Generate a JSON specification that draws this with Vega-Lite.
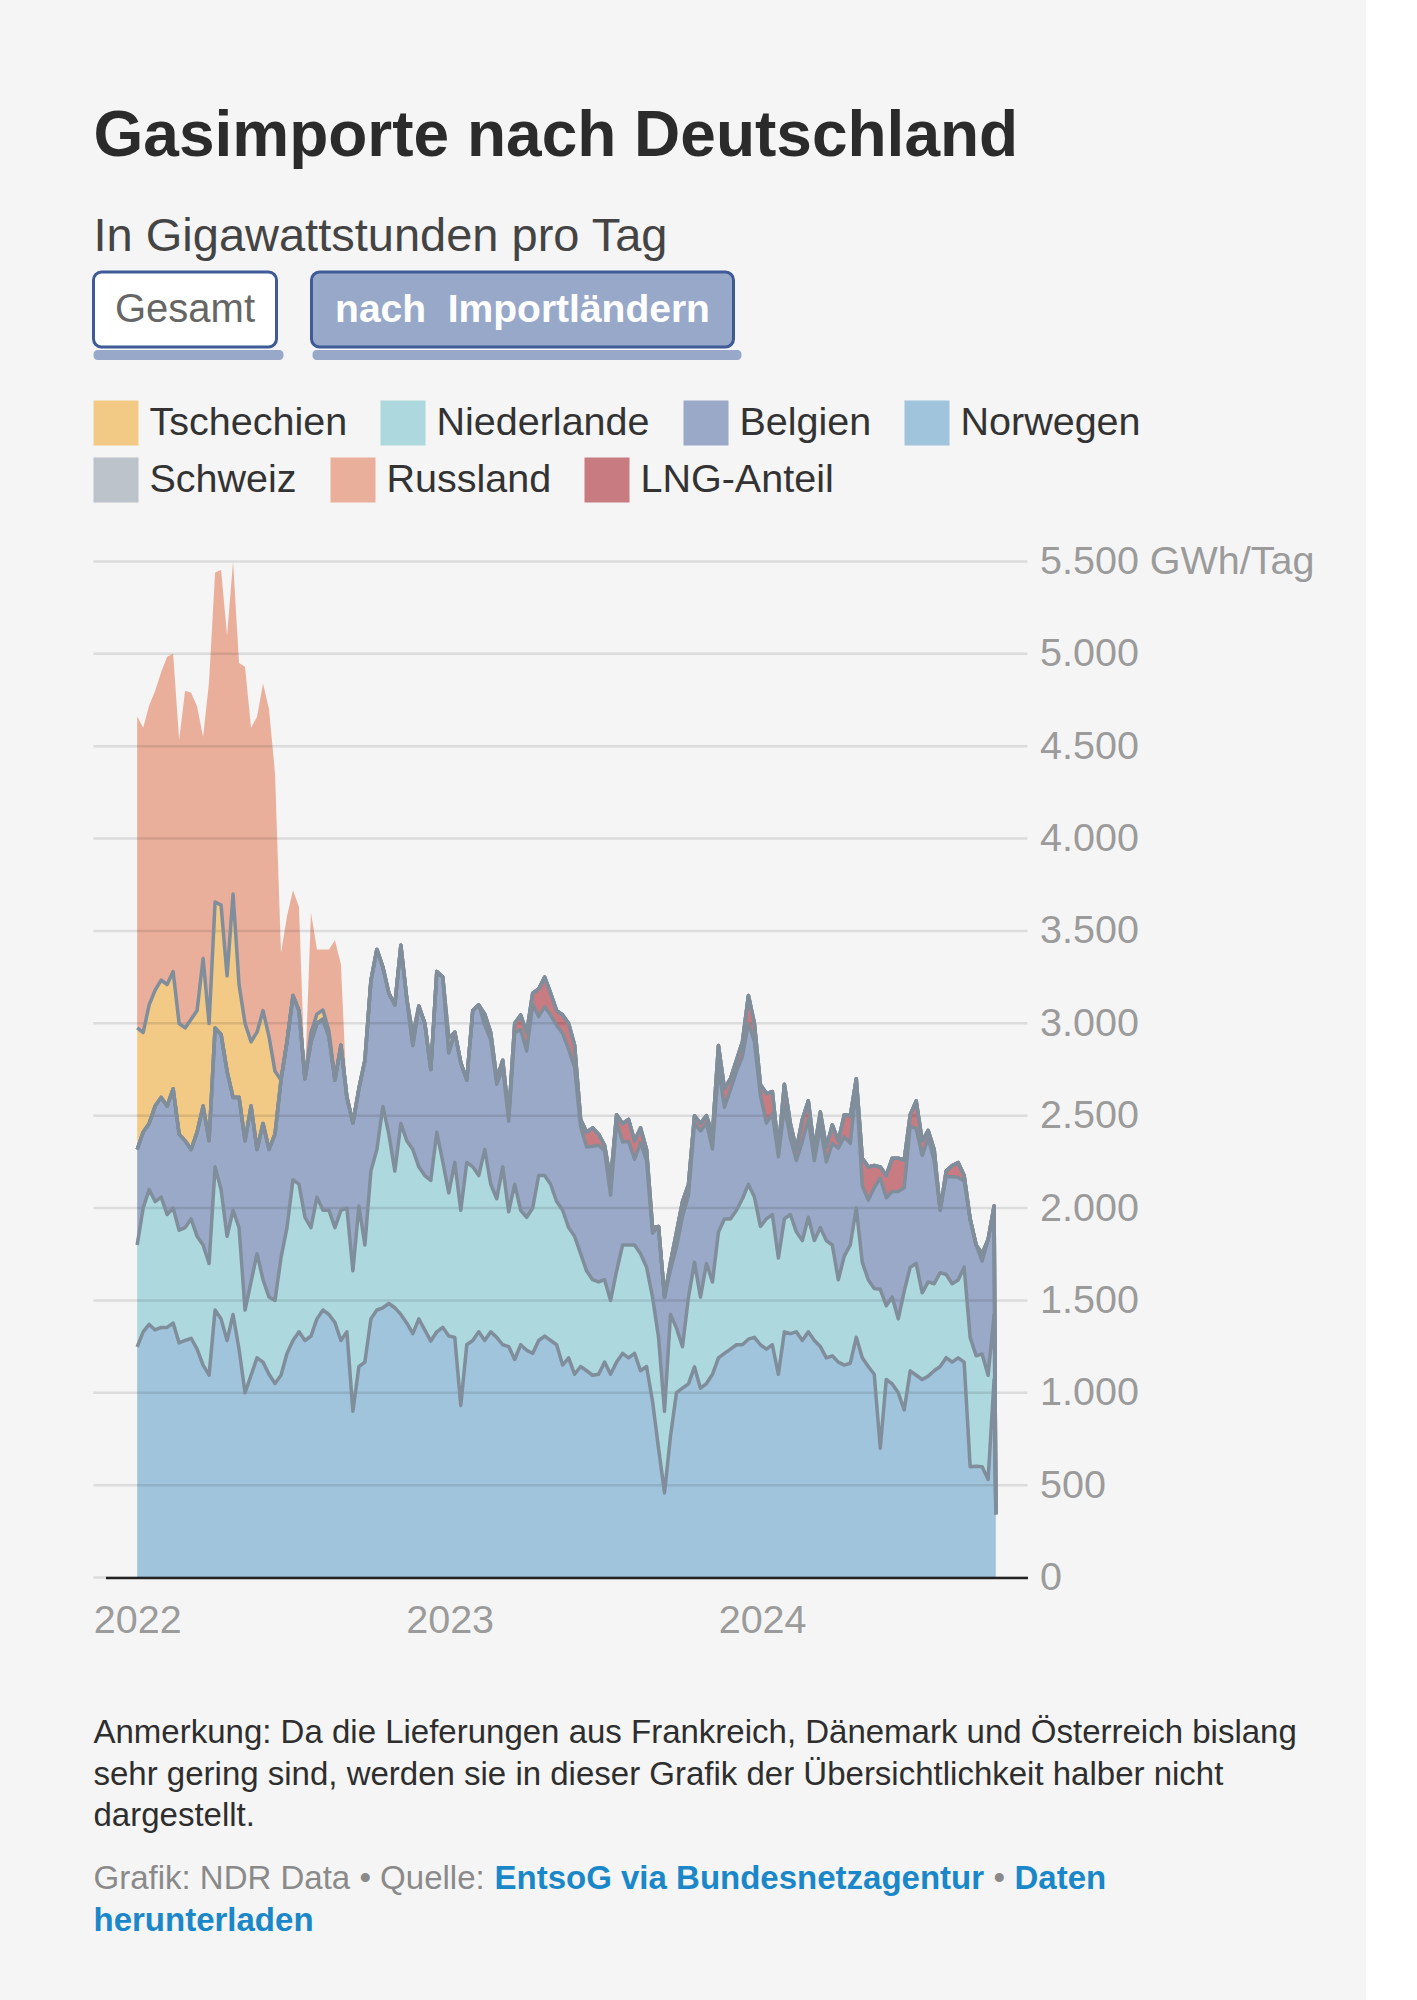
{
 "$schema": "https://vega.github.io/schema/vega-lite/v6.json",
 "background": "#f5f5f5",
 "padding": {"left": 91.5, "top": 105, "right": 51, "bottom": 62},
 "config": {"view": {"stroke": null}, "font": "Liberation Sans"},
 "title": {
  "text": "Gasimporte nach Deutschland",
  "subtitle": "In Gigawattstunden pro Tag",
  "anchor": "start", "frame": "group",
  "font": "Liberation Sans", "fontSize": 64, "fontWeight": "bold", "color": "#2b2b2b",
  "subtitleFont": "Liberation Sans", "subtitleFontSize": 47, "subtitleColor": "#444444", "subtitleFontWeight": "normal",
  "subtitlePadding": 44.5, "offset": 11
 },
 "resolve": {"scale": {"color": "independent", "fill": "independent"}, "legend": {"color": "independent", "fill": "independent"}},
 "datasets": {
  "gas": [
{"d":"2022-01-01","no":1248,"nl":552,"be":517,"lng":0,"ch":0,"cz":658,"ru":1686},
{"d":"2022-01-08","no":1330,"nl":670,"be":411,"lng":0,"ch":0,"cz":539,"ru":1650},
{"d":"2022-01-15","no":1370,"nl":730,"be":358,"lng":0,"ch":0,"cz":642,"ru":1620},
{"d":"2022-01-22","no":1340,"nl":695,"be":517,"lng":0,"ch":0,"cz":628,"ru":1620},
{"d":"2022-01-29","no":1354,"nl":705,"be":540,"lng":0,"ch":0,"cz":635,"ru":1666},
{"d":"2022-02-05","no":1354,"nl":611,"be":587,"lng":0,"ch":0,"cz":658,"ru":1775},
{"d":"2022-02-12","no":1377,"nl":623,"be":646,"lng":0,"ch":0,"cz":634,"ru":1720},
{"d":"2022-02-19","no":1270,"nl":610,"be":520,"lng":0,"ch":0,"cz":599,"ru":1536},
{"d":"2022-02-26","no":1283,"nl":611,"be":470,"lng":0,"ch":0,"cz":611,"ru":1825},
{"d":"2022-03-05","no":1295,"nl":646,"be":376,"lng":0,"ch":0,"cz":705,"ru":1768},
{"d":"2022-03-12","no":1236,"nl":611,"be":564,"lng":0,"ch":0,"cz":658,"ru":1646},
{"d":"2022-03-19","no":1150,"nl":650,"be":752,"lng":0,"ch":0,"cz":799,"ru":1199},
{"d":"2022-03-26","no":1095,"nl":605,"be":664,"lng":0,"ch":0,"cz":635,"ru":1851},
{"d":"2022-04-02","no":1448,"nl":775,"be":752,"lng":0,"ch":0,"cz":682,"ru":1783},
{"d":"2022-04-09","no":1400,"nl":700,"be":840,"lng":0,"ch":0,"cz":700,"ru":1815},
{"d":"2022-04-16","no":1283,"nl":564,"be":893,"lng":0,"ch":0,"cz":517,"ru":1843},
{"d":"2022-04-23","no":1424,"nl":564,"be":611,"lng":0,"ch":0,"cz":1101,"ru":1800},
{"d":"2022-04-30","no":1236,"nl":658,"be":706,"lng":0,"ch":0,"cz":610,"ru":1740},
{"d":"2022-05-07","no":1000,"nl":448,"be":916,"lng":0,"ch":0,"cz":635,"ru":1931},
{"d":"2022-05-14","no":1095,"nl":505,"be":952,"lng":0,"ch":0,"cz":348,"ru":1700},
{"d":"2022-05-21","no":1189,"nl":564,"be":564,"lng":0,"ch":0,"cz":635,"ru":1708},
{"d":"2022-05-28","no":1166,"nl":446,"be":846,"lng":0,"ch":0,"cz":611,"ru":1771},
{"d":"2022-06-04","no":1100,"nl":418,"be":799,"lng":0,"ch":0,"cz":611,"ru":1772},
{"d":"2022-06-11","no":1050,"nl":450,"be":900,"lng":0,"ch":0,"cz":340,"ru":1615},
{"d":"2022-06-18","no":1095,"nl":635,"be":963,"lng":0,"ch":0,"cz":0,"ru":687},
{"d":"2022-06-25","no":1213,"nl":681,"be":1006,"lng":0,"ch":0,"cz":0,"ru":680},
{"d":"2022-07-02","no":1283,"nl":870,"be":997,"lng":0,"ch":0,"cz":0,"ru":570},
{"d":"2022-07-09","no":1330,"nl":799,"be":940,"lng":0,"ch":0,"cz":0,"ru":561},
{"d":"2022-07-16","no":1283,"nl":667,"be":750,"lng":0,"ch":0,"cz":0,"ru":0},
{"d":"2022-07-23","no":1307,"nl":587,"be":1006,"lng":0,"ch":0,"cz":50,"ru":650},
{"d":"2022-07-30","no":1400,"nl":659,"be":941,"lng":0,"ch":0,"cz":50,"ru":350},
{"d":"2022-08-06","no":1448,"nl":540,"be":1034,"lng":0,"ch":0,"cz":50,"ru":328},
{"d":"2022-08-13","no":1424,"nl":564,"be":940,"lng":0,"ch":0,"cz":30,"ru":442},
{"d":"2022-08-20","no":1380,"nl":514,"be":799,"lng":0,"ch":0,"cz":0,"ru":757},
{"d":"2022-08-27","no":1283,"nl":705,"be":893,"lng":0,"ch":0,"cz":0,"ru":439},
{"d":"2022-09-03","no":1330,"nl":670,"be":600,"lng":0,"ch":0,"cz":0,"ru":0},
{"d":"2022-09-10","no":900,"nl":760,"be":800,"lng":0,"ch":0,"cz":0,"ru":0},
{"d":"2022-09-17","no":1142,"nl":869,"be":635,"lng":0,"ch":0,"cz":0,"ru":0},
{"d":"2022-09-24","no":1166,"nl":634,"be":1000,"lng":0,"ch":0,"cz":0,"ru":0},
{"d":"2022-10-01","no":1400,"nl":800,"be":1030,"lng":0,"ch":0,"cz":0,"ru":0},
{"d":"2022-10-08","no":1448,"nl":869,"be":1083,"lng":0,"ch":0,"cz":0,"ru":0},
{"d":"2022-10-15","no":1460,"nl":1090,"be":754,"lng":0,"ch":0,"cz":0,"ru":0},
{"d":"2022-10-22","no":1483,"nl":917,"be":763,"lng":0,"ch":0,"cz":0,"ru":0},
{"d":"2022-10-29","no":1460,"nl":740,"be":900,"lng":0,"ch":0,"cz":0,"ru":0},
{"d":"2022-11-05","no":1424,"nl":1034,"be":964,"lng":0,"ch":0,"cz":0,"ru":0},
{"d":"2022-11-12","no":1377,"nl":987,"be":766,"lng":0,"ch":0,"cz":0,"ru":0},
{"d":"2022-11-19","no":1320,"nl":997,"be":563,"lng":0,"ch":60,"cz":0,"ru":0},
{"d":"2022-11-26","no":1400,"nl":823,"be":870,"lng":0,"ch":0,"cz":0,"ru":0},
{"d":"2022-12-03","no":1340,"nl":836,"be":824,"lng":0,"ch":0,"cz":0,"ru":0},
{"d":"2022-12-10","no":1280,"nl":870,"be":600,"lng":0,"ch":0,"cz":0,"ru":0},
{"d":"2022-12-17","no":1330,"nl":1081,"be":869,"lng":0,"ch":0,"cz":0,"ru":0},
{"d":"2022-12-24","no":1354,"nl":896,"be":1000,"lng":0,"ch":0,"cz":0,"ru":0},
{"d":"2022-12-31","no":1307,"nl":775,"be":758,"lng":0,"ch":80,"cz":0,"ru":0},
{"d":"2023-01-07","no":1300,"nl":947,"be":705,"lng":0,"ch":0,"cz":0,"ru":0},
{"d":"2023-01-14","no":931,"nl":1057,"be":799,"lng":0,"ch":0,"cz":0,"ru":0},
{"d":"2023-01-21","no":1260,"nl":987,"be":446,"lng":0,"ch":0,"cz":0,"ru":0},
{"d":"2023-01-28","no":1283,"nl":940,"be":846,"lng":0,"ch":0,"cz":0,"ru":0},
{"d":"2023-02-04","no":1330,"nl":846,"be":924,"lng":0,"ch":0,"cz":0,"ru":0},
{"d":"2023-02-11","no":1283,"nl":1034,"be":673,"lng":60,"ch":0,"cz":0,"ru":0},
{"d":"2023-02-18","no":1330,"nl":799,"be":781,"lng":40,"ch":0,"cz":0,"ru":0},
{"d":"2023-02-25","no":1300,"nl":750,"be":620,"lng":30,"ch":0,"cz":0,"ru":0},
{"d":"2023-03-04","no":1260,"nl":963,"be":537,"lng":40,"ch":0,"cz":0,"ru":0},
{"d":"2023-03-11","no":1250,"nl":730,"be":490,"lng":30,"ch":0,"cz":0,"ru":0},
{"d":"2023-03-18","no":1180,"nl":949,"be":821,"lng":50,"ch":0,"cz":0,"ru":0},
{"d":"2023-03-25","no":1260,"nl":728,"be":977,"lng":80,"ch":0,"cz":0,"ru":0},
{"d":"2023-04-01","no":1230,"nl":720,"be":900,"lng":100,"ch":0,"cz":0,"ru":0},
{"d":"2023-04-08","no":1213,"nl":787,"be":1103,"lng":60,"ch":0,"cz":0,"ru":0},
{"d":"2023-04-15","no":1283,"nl":893,"be":860,"lng":150,"ch":0,"cz":0,"ru":0},
{"d":"2023-04-22","no":1307,"nl":869,"be":914,"lng":160,"ch":0,"cz":0,"ru":0},
{"d":"2023-04-29","no":1283,"nl":846,"be":914,"lng":120,"ch":0,"cz":0,"ru":0},
{"d":"2023-05-06","no":1260,"nl":775,"be":954,"lng":80,"ch":0,"cz":0,"ru":0},
{"d":"2023-05-13","no":1150,"nl":838,"be":957,"lng":100,"ch":0,"cz":0,"ru":0},
{"d":"2023-05-20","no":1189,"nl":705,"be":965,"lng":140,"ch":0,"cz":0,"ru":0},
{"d":"2023-05-27","no":1100,"nl":747,"be":914,"lng":120,"ch":0,"cz":0,"ru":0},
{"d":"2023-06-03","no":1142,"nl":611,"be":687,"lng":40,"ch":0,"cz":0,"ru":0},
{"d":"2023-06-10","no":1119,"nl":540,"be":672,"lng":80,"ch":0,"cz":0,"ru":0},
{"d":"2023-06-17","no":1095,"nl":517,"be":722,"lng":100,"ch":0,"cz":0,"ru":0},
{"d":"2023-06-24","no":1100,"nl":500,"be":740,"lng":60,"ch":0,"cz":0,"ru":0},
{"d":"2023-07-01","no":1166,"nl":446,"be":698,"lng":30,"ch":0,"cz":0,"ru":0},
{"d":"2023-07-08","no":1100,"nl":400,"be":570,"lng":80,"ch":0,"cz":0,"ru":0},
{"d":"2023-07-15","no":1166,"nl":493,"be":806,"lng":40,"ch":0,"cz":0,"ru":0},
{"d":"2023-07-22","no":1213,"nl":587,"be":558,"lng":100,"ch":0,"cz":0,"ru":0},
{"d":"2023-07-29","no":1189,"nl":611,"be":560,"lng":120,"ch":0,"cz":0,"ru":0},
{"d":"2023-08-05","no":1213,"nl":587,"be":464,"lng":100,"ch":0,"cz":0,"ru":0},
{"d":"2023-08-12","no":1119,"nl":634,"be":601,"lng":80,"ch":0,"cz":0,"ru":0},
{"d":"2023-08-19","no":1142,"nl":538,"be":577,"lng":60,"ch":0,"cz":0,"ru":0},
{"d":"2023-08-26","no":954,"nl":564,"be":346,"lng":30,"ch":0,"cz":0,"ru":0},
{"d":"2023-09-02","no":700,"nl":600,"be":600,"lng":0,"ch":0,"cz":0,"ru":0},
{"d":"2023-09-09","no":458,"nl":442,"be":618,"lng":0,"ch":0,"cz":0,"ru":0},
{"d":"2023-09-16","no":766,"nl":658,"be":242,"lng":40,"ch":0,"cz":0,"ru":0},
{"d":"2023-09-23","no":1001,"nl":349,"be":440,"lng":80,"ch":0,"cz":0,"ru":0},
{"d":"2023-09-30","no":1025,"nl":225,"be":705,"lng":80,"ch":0,"cz":0,"ru":0},
{"d":"2023-10-07","no":1048,"nl":470,"be":551,"lng":60,"ch":0,"cz":0,"ru":0},
{"d":"2023-10-14","no":1140,"nl":566,"be":754,"lng":40,"ch":0,"cz":0,"ru":0},
{"d":"2023-10-21","no":1025,"nl":493,"be":900,"lng":40,"ch":0,"cz":0,"ru":0},
{"d":"2023-10-28","no":1050,"nl":650,"be":760,"lng":40,"ch":0,"cz":0,"ru":0},
{"d":"2023-11-04","no":1100,"nl":500,"be":720,"lng":80,"ch":0,"cz":0,"ru":0},
{"d":"2023-11-11","no":1189,"nl":681,"be":890,"lng":120,"ch":0,"cz":0,"ru":0},
{"d":"2023-11-18","no":1213,"nl":728,"be":605,"lng":100,"ch":0,"cz":0,"ru":0},
{"d":"2023-11-25","no":1236,"nl":705,"be":699,"lng":60,"ch":0,"cz":0,"ru":0},
{"d":"2023-12-02","no":1260,"nl":728,"be":752,"lng":60,"ch":0,"cz":0,"ru":0},
{"d":"2023-12-09","no":1260,"nl":790,"be":770,"lng":80,"ch":0,"cz":0,"ru":0},
{"d":"2023-12-16","no":1290,"nl":839,"be":872,"lng":150,"ch":0,"cz":0,"ru":0},
{"d":"2023-12-23","no":1300,"nl":760,"be":840,"lng":100,"ch":0,"cz":0,"ru":0},
{"d":"2023-12-30","no":1260,"nl":640,"be":709,"lng":60,"ch":0,"cz":0,"ru":0},
{"d":"2024-01-06","no":1236,"nl":705,"be":519,"lng":160,"ch":0,"cz":0,"ru":0},
{"d":"2024-01-13","no":1260,"nl":705,"be":545,"lng":120,"ch":0,"cz":0,"ru":0},
{"d":"2024-01-20","no":1100,"nl":630,"be":547,"lng":40,"ch":0,"cz":0,"ru":0},
{"d":"2024-01-27","no":1330,"nl":611,"be":609,"lng":120,"ch":0,"cz":0,"ru":0},
{"d":"2024-02-03","no":1320,"nl":645,"be":413,"lng":80,"ch":0,"cz":0,"ru":0},
{"d":"2024-02-10","no":1330,"nl":541,"be":386,"lng":60,"ch":0,"cz":0,"ru":0},
{"d":"2024-02-17","no":1283,"nl":541,"be":537,"lng":120,"ch":0,"cz":0,"ru":0},
{"d":"2024-02-24","no":1330,"nl":620,"be":530,"lng":100,"ch":0,"cz":0,"ru":0},
{"d":"2024-03-02","no":1283,"nl":541,"be":433,"lng":60,"ch":0,"cz":0,"ru":0},
{"d":"2024-03-09","no":1250,"nl":644,"be":546,"lng":80,"ch":0,"cz":0,"ru":0},
{"d":"2024-03-16","no":1189,"nl":635,"be":426,"lng":80,"ch":0,"cz":0,"ru":0},
{"d":"2024-03-23","no":1200,"nl":600,"be":550,"lng":100,"ch":0,"cz":0,"ru":0},
{"d":"2024-03-30","no":1166,"nl":446,"be":712,"lng":40,"ch":0,"cz":0,"ru":0},
{"d":"2024-04-06","no":1150,"nl":590,"be":645,"lng":120,"ch":0,"cz":0,"ru":0},
{"d":"2024-04-13","no":1160,"nl":640,"be":550,"lng":150,"ch":0,"cz":0,"ru":0},
{"d":"2024-04-20","no":1300,"nl":700,"be":660,"lng":40,"ch":0,"cz":0,"ru":0},
{"d":"2024-04-27","no":1189,"nl":517,"be":414,"lng":150,"ch":0,"cz":0,"ru":0},
{"d":"2024-05-04","no":1142,"nl":470,"be":431,"lng":180,"ch":0,"cz":0,"ru":0},
{"d":"2024-05-11","no":1100,"nl":465,"be":545,"lng":120,"ch":0,"cz":0,"ru":0},
{"d":"2024-05-18","no":700,"nl":860,"be":603,"lng":60,"ch":0,"cz":0,"ru":0},
{"d":"2024-05-25","no":1072,"nl":399,"be":585,"lng":120,"ch":0,"cz":0,"ru":0},
{"d":"2024-06-01","no":1048,"nl":470,"be":572,"lng":180,"ch":0,"cz":0,"ru":0},
{"d":"2024-06-08","no":1000,"nl":400,"be":690,"lng":180,"ch":0,"cz":0,"ru":0},
{"d":"2024-06-15","no":907,"nl":643,"be":560,"lng":150,"ch":0,"cz":0,"ru":0},
{"d":"2024-06-22","no":1119,"nl":561,"be":765,"lng":60,"ch":0,"cz":0,"ru":0},
{"d":"2024-06-29","no":1095,"nl":605,"be":730,"lng":150,"ch":0,"cz":0,"ru":0},
{"d":"2024-07-06","no":1072,"nl":469,"be":743,"lng":80,"ch":0,"cz":0,"ru":0},
{"d":"2024-07-13","no":1090,"nl":510,"be":780,"lng":40,"ch":0,"cz":0,"ru":0},
{"d":"2024-07-20","no":1119,"nl":471,"be":667,"lng":60,"ch":0,"cz":0,"ru":0},
{"d":"2024-07-27","no":1142,"nl":508,"be":340,"lng":0,"ch":0,"cz":0,"ru":0},
{"d":"2024-08-03","no":1190,"nl":450,"be":530,"lng":30,"ch":0,"cz":0,"ru":0},
{"d":"2024-08-10","no":1166,"nl":424,"be":580,"lng":60,"ch":0,"cz":0,"ru":0},
{"d":"2024-08-17","no":1189,"nl":421,"be":556,"lng":80,"ch":0,"cz":0,"ru":0},
{"d":"2024-08-24","no":1166,"nl":514,"be":466,"lng":30,"ch":0,"cz":0,"ru":0},
{"d":"2024-08-31","no":600,"nl":700,"be":641,"lng":0,"ch":0,"cz":0,"ru":0},
{"d":"2024-09-07","no":602,"nl":598,"be":600,"lng":0,"ch":0,"cz":0,"ru":0},
{"d":"2024-09-14","no":600,"nl":610,"be":503,"lng":40,"ch":0,"cz":0,"ru":0},
{"d":"2024-09-21","no":531,"nl":564,"be":735,"lng":0,"ch":0,"cz":0,"ru":0},
{"d":"2024-09-28","no":1072,"nl":352,"be":587,"lng":0,"ch":0,"cz":0,"ru":0},
{"d":"2024-09-30","no":343,"nl":0,"be":0,"lng":0,"ch":0,"cz":0,"ru":0}
  ],
  "series": [
   {"key": "no", "name": "Norwegen", "o": 1},
   {"key": "nl", "name": "Niederlande", "o": 2},
   {"key": "be", "name": "Belgien", "o": 3},
   {"key": "lng", "name": "LNG-Anteil", "o": 4},
   {"key": "ch", "name": "Schweiz", "o": 5},
   {"key": "cz", "name": "Tschechien", "o": 6},
   {"key": "ru", "name": "Russland", "o": 7}
  ]
 },
 "spacing": 40.5,
 "vconcat": [
  {
   "spacing": 0,
   "vconcat": [
    {
     "spacing": 31,
     "hconcat": [
      {
       "width": 183, "height": 75,
       "view": {"fill": "#ffffff", "stroke": "#3e5a97", "strokeWidth": 3, "cornerRadius": 8},
       "data": {"values": [{}]},
       "mark": {"type": "text", "text": "Gesamt", "fontSize": 40, "font": "Liberation Sans", "color": "#666666"},
       "encoding": {}
      },
      {
       "width": 422, "height": 75,
       "view": {"fill": "#98a8c9", "stroke": "#3e5a97", "strokeWidth": 3, "cornerRadius": 8},
       "data": {"values": [{}]},
       "mark": {"type": "text", "text": "nach\u00a0 Importländern", "fontSize": 39, "font": "Liberation Sans", "fontWeight": "bold", "color": "#ffffff"},
       "encoding": {}
      }
     ]
    },
    {
     "spacing": 29,
     "hconcat": [
      {
       "width": 190, "height": 10,
       "view": {"fill": "#98a8c9", "stroke": null, "cornerRadius": 4},
       "data": {"values": [{}]},
       "mark": {"type": "text", "text": ""},
       "encoding": {}
      },
      {
       "width": 429, "height": 10,
       "view": {"fill": "#98a8c9", "stroke": null, "cornerRadius": 4},
       "data": {"values": [{}]},
       "mark": {"type": "text", "text": ""},
       "encoding": {}
      }
     ]
    }
   ]
  },
  {
   "spacing": 76,
   "resolve": {"scale": {"color": "independent", "fill": "independent"}, "legend": {"color": "independent", "fill": "independent"}},
   "vconcat": [
    {
     "width": 934, "height": 1016,
     "layer": [
      {
       "data": {"name": "gas"},
       "transform": [
        {"fold": ["no", "nl", "be", "lng", "ch", "cz", "ru"], "as": ["key", "v"]},
        {"lookup": "key", "from": {"data": {"name": "series"}, "key": "key", "fields": ["name", "o"]}},
        {"stack": "v", "groupby": ["d"], "sort": [{"field": "o", "order": "ascending"}], "as": ["v0", "v1"]}
       ],
       "mark": {"type": "area", "opacity": 1, "interpolate": "linear", "clip": false},
       "encoding": {
        "x": {
         "field": "d", "type": "temporal",
         "scale": {"type": "utc", "range": [12, 934], "domain": [{"year": 2021, "month": 11, "date": 25, "utc": true}, {"year": 2024, "month": 11, "date": 6, "utc": true}]},
         "axis": {
          "title": null,
          "values": [{"year": 2022, "month": 1, "date": 1, "utc": true}, {"year": 2023, "month": 1, "date": 1, "utc": true}, {"year": 2024, "month": 1, "date": 1, "utc": true}],
          "format": "%Y", "grid": false, "ticks": false,
          "domainColor": "#222222", "domainWidth": 2.5,
          "labelPadding": 24, "labelFontSize": 39.5, "labelColor": "#9b9b9b", "labelFont": "Liberation Sans",
          "labelFlush": false, "labelOverlap": false, "zindex": 1
         }
        },
        "y": {
         "field": "v1", "type": "quantitative",
         "scale": {"domain": [0, 5500], "nice": false},
         "axis": {
          "orient": "right", "title": null,
          "values": [0, 500, 1000, 1500, 2000, 2500, 3000, 3500, 4000, 4500, 5000, 5500],
          "grid": false, "domain": false, "ticks": false,
          "labelPadding": 12, "labelFontSize": 39.5, "labelColor": "#9b9b9b", "labelFont": "Liberation Sans",
          "labelLimit": 600, "labelOverlap": false,
          "labelExpr": "datum.value == 5500 ? '5.500 GWh/Tag' : replace(format(datum.value, ','), ',', '.')",
          "zindex": 1
         }
        },
        "y2": {"field": "v0"},
        "color": {
         "field": "name", "type": "nominal",
         "scale": {
          "domain": ["Tschechien", "Niederlande", "Belgien", "Norwegen", "Schweiz", "Russland", "LNG-Anteil"],
          "range": ["#f2c985", "#acd8de", "#9aa9c8", "#a0c4dc", "#bcc3ca", "#eaaf9b", "#c87b80"]
         },
         "legend": {
          "title": null, "orient": "none", "legendX": 0, "legendY": -161,
          "direction": "horizontal",
          "values": ["Tschechien", "Niederlande", "Belgien", "Norwegen"],
          "symbolType": "square", "symbolSize": 2025, "symbolStrokeWidth": 0, "symbolOpacity": 1,
          "labelFontSize": 39.5, "labelColor": "#333333", "labelFont": "Liberation Sans", "labelLimit": 600,
          "labelOffset": 11, "columnPadding": 33, "padding": 0
         }
        }
       }
      },
      {
       "data": {"values": [{"g": 0}, {"g": 500}, {"g": 1000}, {"g": 1500}, {"g": 2000}, {"g": 2500}, {"g": 3000}, {"g": 3500}, {"g": 4000}, {"g": 4500}, {"g": 5000}, {"g": 5500}]},
       "mark": {"type": "rule", "color": "#000000", "opacity": 0.1, "strokeWidth": 2.5},
       "encoding": {
        "y": {"field": "g", "type": "quantitative"}
       }
      },
      {
       "data": {"name": "gas"},
       "transform": [
        {"fold": ["no", "nl", "be", "lng", "ch", "cz", "ru"], "as": ["key", "v"]},
        {"lookup": "key", "from": {"data": {"name": "series"}, "key": "key", "fields": ["name", "o"]}},
        {"stack": "v", "groupby": ["d"], "sort": [{"field": "o", "order": "ascending"}], "as": ["v0", "v1"]},
        {"filter": "datum.key != 'ru'"}
       ],
       "mark": {"type": "line", "color": "#808e9c", "strokeWidth": 3.5, "strokeJoin": "round", "interpolate": "linear"},
       "encoding": {
        "x": {"field": "d", "type": "temporal"},
        "y": {"field": "v1", "type": "quantitative"},
        "detail": {"field": "name", "type": "nominal"}
       }
      },
      {
       "data": {"name": "gas"},
       "transform": [
        {"fold": ["no", "nl", "be", "lng", "ch", "cz", "ru"], "as": ["key", "v"]},
        {"lookup": "key", "from": {"data": {"name": "series"}, "key": "key", "fields": ["name", "o"]}},
        {"stack": "v", "groupby": ["d"], "sort": [{"field": "o", "order": "ascending"}], "as": ["v0", "v1"]},
        {"filter": "datum.key == 'ch' || datum.key == 'ru' || datum.key == 'lng'"},
        {"lookup": "key", "from": {"data": {"name": "series"}, "key": "key", "fields": ["name"]}, "as": ["lab"]}
       ],
       "mark": {"type": "square", "filled": true, "opacity": 0, "size": 1},
       "encoding": {
        "x": {"field": "d", "type": "temporal"},
        "y": {"field": "v1", "type": "quantitative"},
        "fill": {
         "field": "lab", "type": "nominal",
         "scale": {"domain": ["Schweiz", "Russland", "LNG-Anteil"], "range": ["#bcc3ca", "#eaaf9b", "#c87b80"]},
         "legend": {
          "title": null, "orient": "none", "legendX": 0, "legendY": -104,
          "direction": "horizontal",
          "symbolType": "square", "symbolSize": 2025, "symbolStrokeWidth": 0, "symbolOpacity": 1,
          "labelFontSize": 39.5, "labelColor": "#333333", "labelFont": "Liberation Sans", "labelLimit": 600,
          "labelOffset": 11, "columnPadding": 33, "padding": 0
         }
        }
       }
      }
     ]
    },
    {
     "spacing": 18,
     "vconcat": [
      {
       "width": 1, "height": 1,
       "data": {"values": [{}]},
       "mark": {"type": "text", "text": ""},
       "encoding": {},
       "title": {
        "text": ["Anmerkung: Da die Lieferungen aus Frankreich, Dänemark und Österreich bislang", "sehr gering sind, werden sie in dieser Grafik der Übersichtlichkeit halber nicht", "dargestellt."],
        "anchor": "start", "frame": "group", "font": "Liberation Sans", "fontSize": 33, "lineHeight": 41.5,
        "fontWeight": "normal", "color": "#2e2e2e", "offset": 0
       }
      },
      {
       "spacing": 9,
       "hconcat": [
        {
         "width": 1, "height": 1, "data": {"values": [{}]}, "mark": {"type": "text", "text": ""}, "encoding": {},
         "title": {
          "text": "Grafik: NDR Data • Quelle:", "subtitle": "herunterladen",
          "anchor": "start", "frame": "group", "font": "Liberation Sans", "fontSize": 33, "fontWeight": "normal", "color": "#8a8a8a",
          "subtitleFont": "Liberation Sans", "subtitleFontSize": 33, "subtitleFontWeight": "bold", "subtitleColor": "#1a87c9",
          "subtitlePadding": 9, "offset": 0
         }
        },
        {
         "width": 1, "height": 1, "data": {"values": [{}]}, "mark": {"type": "text", "text": ""}, "encoding": {},
         "title": {
          "text": "EntsoG via Bundesnetzagentur", "subtitle": "\u00a0",
          "anchor": "start", "frame": "group", "font": "Liberation Sans", "fontSize": 33, "fontWeight": "bold", "color": "#1a87c9",
          "subtitleFont": "Liberation Sans", "subtitleFontSize": 33, "subtitlePadding": 9, "offset": 0
         }
        },
        {
         "width": 1, "height": 1, "data": {"values": [{}]}, "mark": {"type": "text", "text": ""}, "encoding": {},
         "title": {
          "text": "•", "subtitle": "\u00a0",
          "anchor": "start", "frame": "group", "font": "Liberation Sans", "fontSize": 33, "fontWeight": "normal", "color": "#8a8a8a",
          "subtitleFont": "Liberation Sans", "subtitleFontSize": 33, "subtitlePadding": 9, "offset": 0
         }
        },
        {
         "width": 1, "height": 1, "data": {"values": [{}]}, "mark": {"type": "text", "text": ""}, "encoding": {},
         "title": {
          "text": "Daten", "subtitle": "\u00a0",
          "anchor": "start", "frame": "group", "font": "Liberation Sans", "fontSize": 33, "fontWeight": "bold", "color": "#1a87c9",
          "subtitleFont": "Liberation Sans", "subtitleFontSize": 33, "subtitlePadding": 9, "offset": 0
         }
        }
       ]
      }
     ]
    }
   ]
  }
 ]
}
